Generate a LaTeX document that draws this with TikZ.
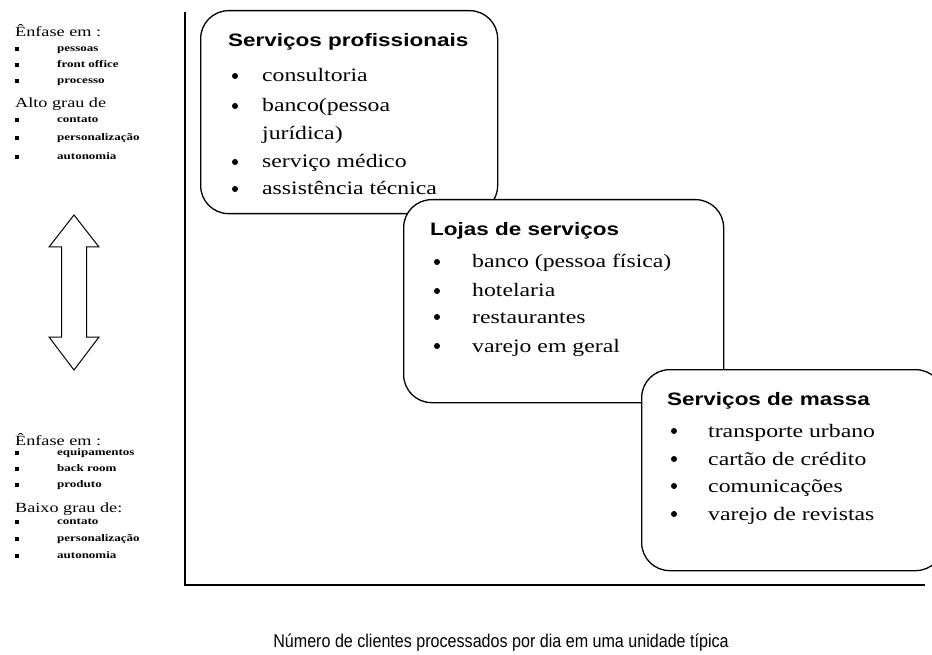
\documentclass[tikz,border=0pt]{standalone}
\usepackage{fontspec}
\setmainfont{Liberation Serif}
\newfontfamily\itemfont[FakeStretch=1.25]{Liberation Serif}
\newfontfamily\sidefont[FakeStretch=1.3]{Liberation Serif}
\newfontfamily\titlefont[FakeStretch=1.25]{Liberation Sans Bold}
\newfontfamily\labelfont[FakeStretch=0.87]{Liberation Sans}
\begin{document}
\begin{tikzpicture}[x=1pt,y=-1pt,
  box/.style={draw, line width=1.3pt, rounded corners=28pt, fill=white, rectangle, anchor=north west, inner sep=0},
  ttl/.style={anchor=base west, inner sep=0, font=\titlefont\fontsize{18}{20}\selectfont},
  itm/.style={anchor=base west, inner sep=0, font=\itemfont\fontsize{19}{21}\selectfont},
  dot/.style={circle, fill=black, inner sep=0, minimum size=6pt},
  side/.style={anchor=base west, inner sep=0, font=\sidefont\fontsize{14}{16}\selectfont},
  tiny/.style={anchor=mid west, inner sep=0, font=\sidefont\bfseries\fontsize{10}{11}\selectfont},
  sq/.style={rectangle, fill=black, inner sep=0, minimum size=4pt},
  axis/.style={line width=1.6pt},
  lbl/.style={anchor=base, inner sep=0, font=\labelfont\fontsize{18.5}{20}\selectfont}]
\useasboundingbox (0,0) rectangle (932,655);

% axes
\coordinate (ytop) at (185,12);
\coordinate (o) at (185,585);
\coordinate (xend) at (925,585);
\draw[axis] (ytop) -- (o) -- (xend);

% boxes
\node[box, minimum width=297pt, minimum height=203pt] (b1) at (200,10) {};
\node[box, minimum width=320pt, minimum height=203pt] (b2) at (403,199) {};
\node[box, minimum width=302pt, minimum height=201pt] (b3) at (641,369) {};

% box 1
\node[ttl] (t1) at (228,47) {Serviços profissionais};
\node[dot] (d11) at (235,76) {};
\node[itm] (i11) at (262,82) {consultoria};
\node[dot] (d12) at (235,106) {};
\node[itm] (i12) at (262,112) {banco(pessoa};
\node[itm] (i12b) at (262,140) {jurídica)};
\node[dot] (d13) at (235,162) {};
\node[itm] (i13) at (262,168) {serviço médico};
\node[dot] (d14) at (235,189) {};
\node[itm] (i14) at (262,195) {assistência técnica};

% box 2
\node[ttl] (t2) at (430,236) {Lojas de serviços};
\node[dot] (d21) at (437,262) {};
\node[itm] (i21) at (472,268) {banco (pessoa física)};
\node[dot] (d22) at (437,291) {};
\node[itm] (i22) at (472,297) {hotelaria};
\node[dot] (d23) at (437,317) {};
\node[itm] (i23) at (472,323) {restaurantes};
\node[dot] (d24) at (437,346) {};
\node[itm] (i24) at (472,352) {varejo em geral};

% box 3
\node[ttl] (t3) at (667,405) {Serviços de massa};
\node[dot] (d31) at (674,431) {};
\node[itm] (i31) at (708,437) {transporte urbano};
\node[dot] (d32) at (674,459) {};
\node[itm] (i32) at (708,465) {cartão de crédito};
\node[dot] (d33) at (674,486) {};
\node[itm] (i33) at (708,492) {comunicações};
\node[dot] (d34) at (674,514) {};
\node[itm] (i34) at (708,520) {varejo de revistas};

% left sidebar top
\node[side] (s1) at (15,37) {Ênfase em :};
\node[sq] (q11) at (17,49) {}; \node[tiny] (p11) at (57,49) {pessoas};
\node[sq] (q12) at (17,65) {}; \node[tiny] (p12) at (57,65) {front office};
\node[sq] (q13) at (17,81) {}; \node[tiny] (p13) at (57,81) {processo};
\node[side] (s2) at (15,108) {Alto grau de};
\node[sq] (q14) at (17,120) {}; \node[tiny] (p14) at (57,120) {contato};
\node[sq] (q15) at (17,138) {}; \node[tiny] (p15) at (57,138) {personalização};
\node[sq] (q16) at (17,157) {}; \node[tiny] (p16) at (57,157) {autonomia};

% double arrow
\draw[line width=1pt, fill=white] (74,215) -- (99,247) -- (86.5,247) -- (86.5,337) -- (99,337) -- (74,370) -- (49,337) -- (61.5,337) -- (61.5,247) -- (49,247) -- cycle;

% left sidebar bottom
\node[side] (s3) at (15,445) {Ênfase em :};
\node[sq] (q21) at (17,453) {}; \node[tiny] (p21) at (57,453) {equipamentos};
\node[sq] (q22) at (17,469) {}; \node[tiny] (p22) at (57,469) {back room};
\node[sq] (q23) at (17,485) {}; \node[tiny] (p23) at (57,485) {produto};
\node[side] (s4) at (15,512) {Baixo grau de:};
\node[sq] (q24) at (17,522) {}; \node[tiny] (p24) at (57,522) {contato};
\node[sq] (q25) at (17,539) {}; \node[tiny] (p25) at (57,539) {personalização};
\node[sq] (q26) at (17,556) {}; \node[tiny] (p26) at (57,556) {autonomia};

% x-axis label
\node[lbl] (xl) at (501,647) {Número de clientes processados por dia em uma unidade típica};
\end{tikzpicture}
\end{document}
